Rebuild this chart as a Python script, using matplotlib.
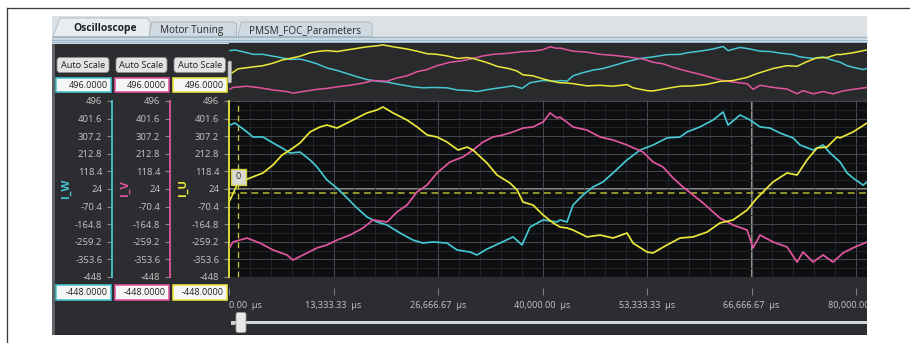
import matplotlib
matplotlib.use("Agg")
import matplotlib.pyplot as plt
from matplotlib.patches import Rectangle, FancyBboxPatch, Polygon
from matplotlib.ticker import MultipleLocator
import numpy as np

plt.rcParams['font.family'] = ['Open Sans', 'DejaVu Sans']

# ------------------------------------------------------------------ data
# phase U (yellow)
t_u = [128, 1148, 2680, 4338, 5614, 6763, 7784, 9060, 10336, 11612, 12505, 13781, 15057,
       16333, 17609, 18885, 19650, 20926, 22713, 23989, 25265, 26541, 27817, 29220, 30369,
       31134, 32921, 34197, 35856, 36749, 37514, 38790, 40066, 41342, 42236, 43129, 43894,
       45681, 47340, 48998, 50785, 51550, 53337, 54102, 55889, 57548, 59206, 60993, 62652,
       64310, 66097, 67373, 68138, 69414, 71201, 72477, 73753, 75029, 76305, 77581, 77964,
       79622, 81409]
i_u = [-35, 56, 83, 110, 153, 206, 233, 271, 330, 357, 367, 351, 378, 405, 432, 448, 464,
       432, 394, 357, 314, 303, 276, 233, 249, 233, 163, 99, 56, 19, -46, -62, -115, -158,
       -180, -185, -196, -233, -223, -239, -212, -266, -314, -319, -276, -239, -233, -207,
       -158, -142, -89, -24, 8, 62, 110, 99, 180, 244, 249, 303, 298, 330, 378]

# phase V (magenta)
t_v = [128, 510, 2297, 3956, 5614, 7401, 8166, 9442, 11229, 12505, 13781, 15440, 17098,
       18374, 20161, 21437, 22713, 23989, 25265, 26541, 28200, 29858, 31134, 32410, 33686,
       34962, 36238, 37514, 38790, 40066, 40960, 41853, 42236, 43894, 45681, 47340, 48998,
       50785, 52826, 54102, 55378, 56654, 57930, 59206, 60482, 61758, 62652, 64310, 66097,
       66862, 67756, 69414, 71201, 72477, 73242, 74518, 75794, 77070, 78346, 79622, 81409]
i_v = [-287, -260, -239, -266, -303, -330, -357, -330, -292, -276, -250, -223, -185, -142,
       -153, -99, -62, 8, 45, 110, 169, 196, 233, 276, 303, 314, 330, 351, 357, 383, 432,
       405, 410, 357, 340, 303, 287, 260, 222, 169, 142, 83, 35, -8, -51, -99, -132, -169,
       -196, -292, -223, -260, -287, -368, -314, -368, -330, -368, -319, -292, -260]

# phase W (cyan)
t_w = [128, 766, 2297, 3062, 4338, 5614, 6763, 7784, 9060, 10336, 11229, 12505, 13781,
       15057, 16333, 17609, 18885, 20161, 21820, 23478, 24754, 26030, 27817, 29093, 30752,
       31645, 32921, 34580, 36238, 37387, 38408, 40066, 41853, 42236, 43129, 43894, 45170,
       46446, 47722, 48998, 50785, 52444, 54102, 55889, 57548, 58441, 60100, 61758, 63034,
       63672, 65204, 66480, 67756, 69032, 70308, 71966, 72860, 74518, 75794, 76688, 77964,
       78857, 79622, 80898, 81409]
i_w = [367, 378, 330, 303, 303, 271, 244, 217, 222, 180, 142, 72, 29, -24, -78, -126, -153,
       -169, -212, -250, -266, -260, -266, -303, -314, -330, -298, -266, -233, -276, -180,
       -142, -153, -142, -153, -62, -8, 35, 62, 110, 180, 233, 260, 298, 303, 330, 357, 394,
       437, 367, 421, 394, 357, 351, 324, 298, 260, 233, 260, 217, 169, 110, 83, 45, 62]

y_min, y_max = -448.0, 496.0
y_tick_labels = ["-448", "-353.6", "-259.2", "-164.8", "-70.4", "24",
                 "118.4", "212.8", "307.2", "401.6", "496"]
time_ticks = [0.0, 13333.33, 26666.67, 40000.00, 53333.33, 66666.67, 80000.00]
time_labels = ["0.00  µs", "13,333.33  µs", "26,666.67  µs", "40,000.00  µs",
               "53,333.33  µs", "66,666.67  µs", "80,000.00  µs"]
t_end = 81400.0
cursor_time = 66666.67
trigger_time = 1150.0
trigger_level = 0.0
channel_names = ["I_W", "I_V", "I_U"]
tab_names = ["Oscilloscope", "Motor Tuning", "PMSM_FOC_Parameters"]

# ------------------------------------------------------------------ style
C_U, C_V, C_W = '#ece83a', '#e2569f', '#45c7d1'
PANEL = '#2b2d30'
TXT = '#c6c6c6'

W, H = 910, 343
fig = plt.figure(figsize=(W / 100, H / 100), dpi=100)
fig.patch.set_facecolor('white')


def R(x0, y0, x1, y1):
    return [x0 / W, 1 - y1 / H, (x1 - x0) / W, (y1 - y0) / H]


PX = 0.72  # one pixel in points

# background / chrome axes (pixel coordinates)
bg = fig.add_axes([0, 0, 1, 1])
bg.set_xlim(0, W)
bg.set_ylim(H, 0)
bg.axis('off')

bg.plot([6.5, 6.5], [8, H], color='#3c3c3c', lw=1.3 * PX)
bg.plot([6.5, W], [8, 8], color='#3c3c3c', lw=1.3 * PX)

# tab strip
bg.add_patch(Rectangle((52, 16), 815, 21, fc='#dce1e5', ec='none'))
bg.add_patch(Rectangle((52, 36), 815, 8, fc='#cdd7de', ec='none'))
for yy in (37.2, 39.6, 42.0):
    bg.plot([52, 867], [yy, yy], color='#93b6cf', lw=0.9 * PX)
# app body
bg.add_patch(Rectangle((52, 44), 815, 291, fc=PANEL, ec='none'))
bg.add_patch(Rectangle((52, 44), 2.5, 291, fc='#5e6267', ec='none'))

# tabs
bg.add_patch(Polygon([(53, 36.5), (60, 18), (147, 18), (150, 21), (150, 36.5)],
                     closed=True, fc='#e8edf1', ec='#a9b4bd', lw=0.8 * PX))
bg.add_patch(Polygon([(149, 36.5), (152, 22), (234, 22), (236.5, 24), (236.5, 36.5)],
                     closed=True, fc='#cfd9e1', ec='#a4b0ba', lw=0.8 * PX))
bg.add_patch(Polygon([(238, 36.5), (241, 22), (369, 22), (372, 24), (372, 36.5)],
                     closed=True, fc='#cfd9e1', ec='#a4b0ba', lw=0.8 * PX))
bg.text(105, 28.5, tab_names[0], ha='center', va='center', fontsize=7.4,
        fontweight='bold', color='#1e1e1e')
bg.text(192, 30.5, tab_names[1], ha='center', va='center', fontsize=7.2, color='#2a2a2a')
bg.text(305, 30.5, tab_names[2], ha='center', va='center', fontsize=7.2, color='#2a2a2a')

# Auto Scale buttons, value boxes, channel names
cols = [C_W, C_V, C_U]
box_x = [(55.5, 110.5), (114.5, 168.5), (172.5, 227.0)]
name_x = [66, 125, 183]
for (x0, x1), c, nx, nm in zip(box_x, cols, name_x, channel_names):
    bg.add_patch(FancyBboxPatch((x0 + 1.5, 57.5), x1 - x0 - 3, 15,
                                boxstyle='round,pad=0,rounding_size=3',
                                fc='#e3e3e3', ec='#8e8e8e', lw=0.8 * PX))
    bg.text((x0 + x1) / 2, 65.2, 'Auto Scale', ha='center', va='center',
            fontsize=6.6, color='#1e1e1e')
    bg.add_patch(Rectangle((x0, 78), x1 - x0, 14, fc='#f6f6f6', ec=c, lw=1.6 * PX))
    bg.text(x1 - 3, 85.2, f"{y_max:.4f}", ha='right', va='center', fontsize=6.6,
            color='#202020')
    bg.add_patch(Rectangle((x0, 285), x1 - x0, 15, fc='#f6f6f6', ec=c, lw=1.6 * PX))
    bg.text(x1 - 3, 292.6, f"{y_min:.4f}", ha='right', va='center', fontsize=6.6,
            color='#202020')
    bg.text(nx, 188, nm, rotation=90, ha='center', va='center', fontsize=8.2,
            fontweight='bold', color=c)

# slider
bg.add_patch(Rectangle((233, 321), 634, 3, fc='#d3d7db', ec='none'))
bg.add_patch(Rectangle((231, 320.5), 4, 4, fc='#c9cdd1', ec='none'))

# ------------------------------------------------------------------ overview
ov = fig.add_axes(R(229, 43, 867, 98.5))
ov.set_facecolor('#292a2c')
ov.set_xlim(0, t_end)
ov.set_ylim(y_min, y_max)
for s in ov.spines.values():
    s.set_visible(False)
ov.set_xticks([])
ov.set_yticks([])
ov.plot(t_w, i_w, color=C_W, lw=1.1)
ov.plot(t_v, i_v, color=C_V, lw=1.1)
ov.plot(t_u, i_u, color=C_U, lw=1.1)

# ------------------------------------------------------------------ main plot
ax = fig.add_axes(R(229, 101, 867, 277))
ax.set_facecolor('#0e0f11')
ax.set_xlim(0, t_end)
ax.set_ylim(y_min, y_max)
yt = np.linspace(y_min, y_max, len(y_tick_labels))
ax.set_yticks(yt)
ax.set_yticklabels(y_tick_labels)
ax.set_yticks((yt[:-1] + yt[1:]) / 2, minor=True)
ax.set_xticks(time_ticks)
ax.xaxis.set_minor_locator(MultipleLocator(time_ticks[1] / 5))
ax.tick_params(axis='x', which='both', length=0, labelbottom=False)
ax.tick_params(axis='y', which='major', color='#8a8a8a', labelcolor=TXT, length=3.6,
               width=0.8, pad=3.4, labelsize=6.8)
ax.tick_params(axis='y', which='minor', length=0)
ax.grid(which='major', color='#4c4f53', lw=0.9 * PX)
ax.grid(which='minor', color='#25272b', lw=0.9 * PX)
for k, s in ax.spines.items():
    s.set_visible(k == 'left')
ax.spines['left'].set_color(C_U)
ax.spines['left'].set_linewidth(1.8 * PX)

ax.axhline(yt[5], color='#a2a2a2', lw=1.6 * PX, zorder=1.5)
ax.axvline(cursor_time, color='#8e8e8e', lw=2.2 * PX, zorder=1.5)
ax.axhline(trigger_level, color='#b9b935', lw=1.5 * PX, dashes=(4.5, 3), zorder=1.6)
ax.axvline(trigger_time, color='#c8c53a', lw=1.3 * PX, dashes=(4.5, 3), zorder=1.6)

ax.plot(t_w, i_w, color=C_W, lw=1.25, zorder=3)
ax.plot(t_v, i_v, color=C_V, lw=1.25, zorder=3)
ax.plot(t_u, i_u, color=C_U, lw=1.25, zorder=3)

# secondary y axes for I_W and I_V
for xs, c in [(112, C_W), (170, C_V)]:
    a = fig.add_axes(R(xs, 101, xs + 0.5, 277))
    a.set_facecolor('none')
    a.set_ylim(y_min, y_max)
    a.set_yticks(yt)
    a.set_yticklabels(y_tick_labels)
    a.set_xticks([])
    for k, s in a.spines.items():
        s.set_visible(k == 'left')
    a.spines['left'].set_color(c)
    a.spines['left'].set_linewidth(1.8 * PX)
    a.tick_params(axis='y', color='#8a8a8a', labelcolor=TXT, length=3.6, width=0.8,
                  pad=3.4, labelsize=6.8)

# time ruler
tx = fig.add_axes(R(229, 286, 867, 312))
tx.set_xlim(0, t_end)
tx.set_ylim(26, 0)
tx.axis('off')
tx.vlines(time_ticks, 2, 9, color='#85888c', lw=0.9 * PX)
for k, (tt, lab) in enumerate(zip(time_ticks, time_labels)):
    tx.text(tt, 19, lab, ha='left' if k == 0 else 'center', va='center',
            fontsize=6.6, color=TXT, clip_on=True)

# ------------------------------------------------------------------ overlay
fg = fig.add_axes([0, 0, 1, 1], zorder=10)
fg.set_xlim(0, W)
fg.set_ylim(H, 0)
fg.axis('off')
fg.add_patch(FancyBboxPatch((228, 61), 3.5, 22, boxstyle='round,pad=0,rounding_size=1.5',
                            fc='#cfd1d3', ec='#9a9a9a', lw=0.6 * PX))
fg.add_patch(Rectangle((230.5, 168.5), 15, 16, fc='#d9d9d0', ec='#d6d23e', lw=1.4 * PX))
fg.text(238, 176.5, '0', ha='center', va='center', fontsize=6.5, color='#303030')
fg.add_patch(FancyBboxPatch((236, 312.5), 10, 20, boxstyle='round,pad=0,rounding_size=2',
                            fc='#e8e8e8', ec='#9c9c9c', lw=0.8 * PX))

fig.savefig('out.png', dpi=100, facecolor='white')
